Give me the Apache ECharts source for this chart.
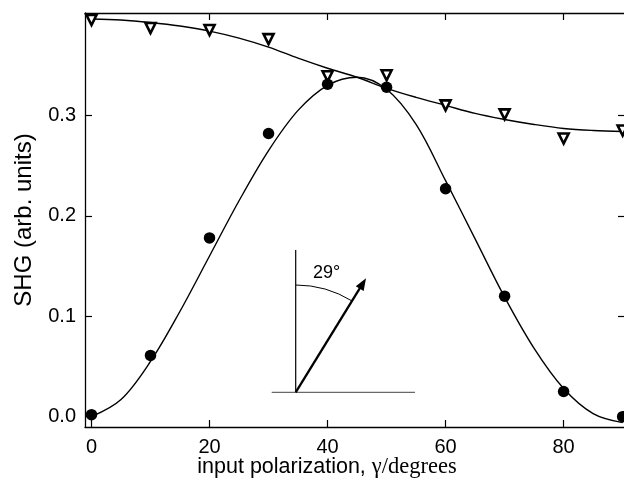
<!DOCTYPE html>
<html>
<head>
<meta charset="utf-8">
<script src="https://cdn.jsdelivr.net/npm/echarts@6/dist/echarts.min.js"></script>
<style>
html,body{margin:0;padding:0;background:#fff;}
#chart{width:624px;height:480px;}
</style>
</head>
<body>
<div id="chart"></div>
<script>
// measured points (input polarization in degrees)
const angles = [0, 10, 20, 30, 40, 50, 60, 70, 80, 90];
const shgCircles = [0.002, 0.061, 0.178, 0.282, 0.331, 0.328, 0.227, 0.120, 0.025, 0.000];
const shgTriangles = [0.395, 0.387, 0.385, 0.376, 0.339, 0.340, 0.310, 0.301, 0.277, 0.285];

// fitted curves
const fitAngles = [0, 5, 10, 15, 20, 25, 30, 35, 40, 45, 50, 55, 60, 65, 70, 75, 80, 85, 90];
const fitCircles = [0.000, 0.017, 0.055, 0.105, 0.160, 0.215, 0.265, 0.305, 0.330, 0.338, 0.326, 0.291, 0.235, 0.177, 0.119, 0.068, 0.028, 0.003, -0.006];
const fitTriangles = [0.396, 0.395, 0.3925, 0.389, 0.384, 0.377, 0.368, 0.357, 0.347, 0.338, 0.327, 0.318, 0.310, 0.302, 0.296, 0.291, 0.287, 0.285, 0.284];

// tick labels
const xTicks = [0, 20, 40, 60, 80];
const yTicks = [0, 0.1, 0.2, 0.3];

const zip = (xs, ys) => xs.map((x, i) => [x, ys[i]]);

const SANS = 'Liberation Sans, Arial, sans-serif';
const SERIF = 'Liberation Serif, Times New Roman, serif';
const axisLine = {onZero: false, lineStyle: {color: '#000', width: 1.3}};
const tickStyle = {color: '#000', width: 1.2};

const chart = echarts.init(document.getElementById('chart'));
chart.setOption({
  backgroundColor: '#fff',
  animation: false,
  grid: {left: 85, top: 13, width: 540, height: 414, outerBoundsMode: 'none'},
  xAxis: [
    {
      type: 'value', min: -1.1, max: 90.4, position: 'bottom',
      axisLine: axisLine,
      axisTick: {inside: true, length: 7, customValues: xTicks, lineStyle: tickStyle},
      axisLabel: {customValues: xTicks, fontSize: 20, color: '#000', margin: 10, fontFamily: SANS},
      splitLine: {show: false},
      name: '{a|input polarization, }{b|γ/degrees}',
      nameLocation: 'middle', nameGap: 29, nameMoveOverlap: false,
      nameTextStyle: {
        padding: [0, 56, 0, 0],
        rich: {
          a: {fontFamily: SANS, fontSize: 21.5, color: '#000'},
          b: {fontFamily: SERIF, fontSize: 22.5, color: '#000'}
        }
      }
    },
    {
      type: 'value', min: -1.1, max: 90.4, position: 'top',
      axisLine: axisLine,
      axisTick: {inside: true, length: 7, customValues: xTicks, lineStyle: tickStyle},
      axisLabel: {show: false},
      splitLine: {show: false}
    }
  ],
  yAxis: [
    {
      type: 'value', min: -0.0103, max: 0.402, position: 'left',
      axisLine: axisLine,
      axisTick: {inside: true, length: 7, customValues: yTicks, lineStyle: tickStyle},
      axisLabel: {customValues: yTicks, fontSize: 20, color: '#000', margin: 9, fontFamily: SANS,
        padding: [6, 0, 0, 0],
        formatter: v => v.toFixed(1)},
      splitLine: {show: false},
      name: 'SHG (arb. units)',
      nameLocation: 'middle', nameRotate: 90, nameGap: 49, nameMoveOverlap: false,
      nameTextStyle: {fontFamily: SANS, fontSize: 24, color: '#000'}
    },
    {
      type: 'value', min: -0.0103, max: 0.402, position: 'right',
      axisLine: axisLine,
      axisTick: {inside: true, length: 7, customValues: yTicks, lineStyle: tickStyle},
      axisLabel: {show: false},
      splitLine: {show: false}
    }
  ],
  series: [
    {
      type: 'line', xAxisIndex: 0, yAxisIndex: 0,
      data: zip(fitAngles, fitCircles), smooth: 0.35, showSymbol: false,
      lineStyle: {color: '#000', width: 1.4}, silent: true, z: 2
    },
    {
      type: 'line', xAxisIndex: 0, yAxisIndex: 0,
      data: zip(fitAngles, fitTriangles), smooth: 0.35, showSymbol: false,
      lineStyle: {color: '#000', width: 1.4}, silent: true, z: 2
    },
    {
      type: 'scatter', xAxisIndex: 0, yAxisIndex: 0,
      data: zip(angles, shgCircles), symbol: 'circle', symbolSize: 11.5,
      itemStyle: {color: '#000', opacity: 1}, z: 3
    },
    {
      type: 'scatter', xAxisIndex: 0, yAxisIndex: 0,
      data: zip(angles, shgTriangles), symbol: 'triangle', symbolRotate: 180, symbolSize: 10,
      itemStyle: {color: '#fff', borderColor: '#000', borderWidth: 2.6, opacity: 1}, z: 4
    }
  ],
  graphic: [
    // inset: polarization diagram
    {type: 'line', shape: {x1: 295.7, y1: 250, x2: 295.7, y2: 392.3}, style: {stroke: '#000', lineWidth: 1.2}, silent: true},
    {type: 'line', shape: {x1: 271.7, y1: 392.3, x2: 415, y2: 392.3}, style: {stroke: '#444', lineWidth: 1}, silent: true},
    {type: 'line', shape: {x1: 295.7, y1: 392.3, x2: 360.5, y2: 287.2}, style: {stroke: '#000', lineWidth: 2.3}, silent: true},
    {type: 'polygon', shape: {points: [[366, 278.3], [363.6, 291.0], [355.8, 286.2]]}, style: {fill: '#000'}, silent: true},
    {type: 'arc', shape: {cx: 295.7, cy: 392.3, r: 107.3, startAngle: -Math.PI / 2, endAngle: -1.017, clockwise: true},
      style: {stroke: '#000', lineWidth: 1, fill: null}, silent: true},
    {type: 'text', x: 326.7, y: 273.3, style: {text: '29°', font: '18px ' + SANS, fill: '#000', align: 'center', verticalAlign: 'middle'}, silent: true}
  ]
});
</script>
</body>
</html>
